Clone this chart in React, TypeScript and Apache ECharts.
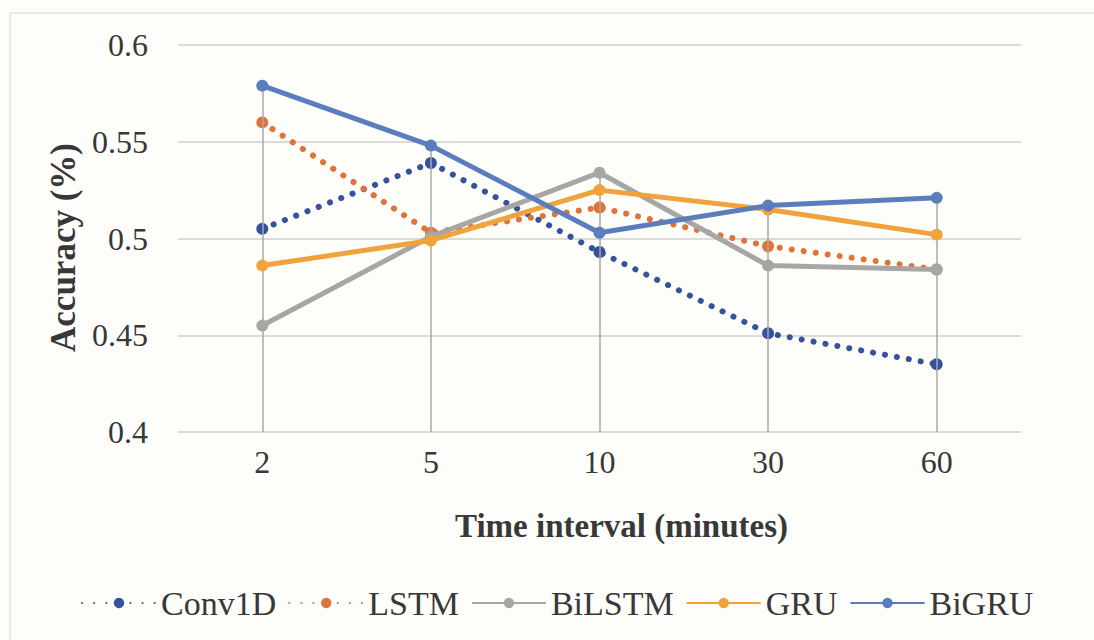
import React, { useEffect, useRef } from "react";
import * as echarts from "echarts";

const categories = ["2", "5", "10", "30", "60"];
const conv1d = [0.505, 0.539, 0.493, 0.451, 0.435];
const lstm = [0.56, 0.503, 0.516, 0.496, 0.484];
const bilstm = [0.455, 0.501, 0.534, 0.486, 0.484];
const gru = [0.486, 0.499, 0.525, 0.515, 0.502];
const bigru = [0.579, 0.548, 0.503, 0.517, 0.521];
const seriesNames = ["Conv1D", "LSTM", "BiLSTM", "GRU", "BiGRU"];
const seriesColors = ["#34539c", "#e0733a", "#a6a6a6", "#f0a33c", "#5a7dbd"];

export default function App() {
  const ref = useRef<HTMLDivElement>(null);
  useEffect(() => {
    if (!ref.current) return;
    const chart = echarts.init(ref.current, null, { renderer: "svg" });
    const all = [conv1d, lstm, bilstm, gru, bigru];
    const maxes = categories.map((_, i) => Math.max(...all.map((s) => s[i])));
    const font = "Liberation Serif";
    const mk = (idx: number, data: number[], dotted: boolean) => ({
      name: seriesNames[idx],
      type: "line",
      data,
      symbol: "circle",
      symbolSize: 12,
      z: 3 + idx,
      itemStyle: { color: seriesColors[idx] },
      lineStyle: dotted
        ? { color: seriesColors[idx], width: 6, type: [0.1, 12], cap: "round" }
        : { color: seriesColors[idx], width: 5 },
    });
    const series: any[] = [
      mk(0, conv1d, true),
      mk(1, lstm, true),
      mk(2, bilstm, false),
      mk(3, gru, false),
      mk(4, bigru, false),
    ];
    series[0].markLine = {
      silent: true,
      symbol: "none",
      label: { show: false },
      lineStyle: { color: "#a8a8a8", width: 1.5, type: "solid" },
      data: categories.map((c, i) => [
        { coord: [c, maxes[i]] },
        { coord: [c, 0.4] },
      ]),
    };
    chart.setOption({
      animation: false,
      backgroundColor: "#fdfdf9",
      textStyle: { fontFamily: font },
      graphic: [
        {
          type: "rect",
          shape: { x: 10, y: 13, width: 1100, height: 640 },
          style: { fill: "none", stroke: "#e4e4e4", lineWidth: 1.5 },
          silent: true,
        },
      ],
      grid: { left: 178, right: 73, top: 45, bottom: 208 },
      xAxis: {
        type: "category",
        data: categories,
        boundaryGap: true,
        axisLine: { show: false },
        axisTick: { show: false },
        axisLabel: { fontSize: 32, color: "#383838", margin: 14, fontFamily: font },
        name: "Time interval (minutes)",
        nameLocation: "middle",
        nameGap: 77,
        nameTextStyle: {
          fontSize: 33,
          fontWeight: "bold",
          color: "#383838",
          fontFamily: font,
          padding: [0, 0, 0, 44],
        },
      },
      yAxis: {
        type: "value",
        min: 0.4,
        max: 0.6,
        interval: 0.05,
        axisLine: { show: false },
        axisTick: { show: false },
        splitLine: { lineStyle: { color: "#cfcfcf", width: 1.5 } },
        axisLabel: { fontSize: 32, color: "#383838", margin: 30, fontFamily: font },
        name: "Accuracy (%)",
        nameLocation: "middle",
        nameRotate: 90,
        nameGap: 94,
        nameTextStyle: {
          fontSize: 35,
          fontWeight: "bold",
          color: "#383838",
          fontFamily: font,
          padding: [0, 18, 0, 0],
        },
      },
      legend: {
        data: seriesNames,
        bottom: 15,
        left: 76,
        itemWidth: 74,
        itemHeight: 13,
        itemGap: 12,
        textStyle: {
          fontSize: 34,
          color: "#383838",
          fontFamily: font,
        },
      },
      series,
    });
    return () => chart.dispose();
  }, []);
  return (
    <div
      ref={ref}
      style={{ position: "fixed", left: 0, top: 0, width: 1094, height: 640 }}
    />
  );
}
